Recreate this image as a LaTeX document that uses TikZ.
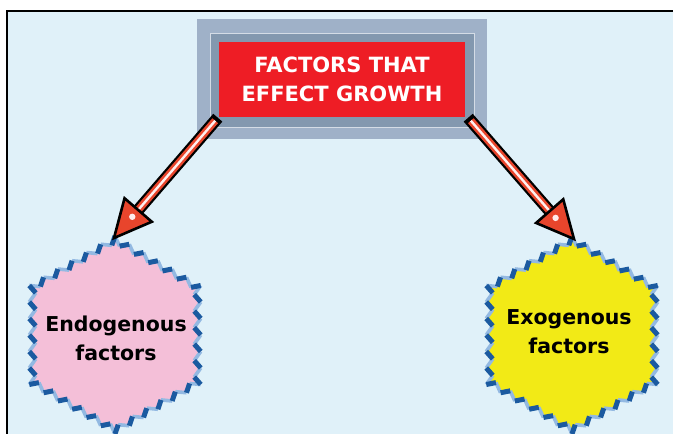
\documentclass[tikz,border=0pt]{standalone}
\usepackage{fontspec}
\setmainfont{DejaVu Sans}
\usetikzlibrary{calc}
\definecolor{bgblue}{HTML}{E0F1F9}
\definecolor{framegray}{HTML}{9FB1C8}
\definecolor{framedark}{HTML}{8398AF}
\definecolor{titlered}{HTML}{EE1D25}
\definecolor{arrowred}{HTML}{E8452C}
\definecolor{hexpink}{HTML}{F4BFD8}
\definecolor{hexyellow}{HTML}{F2EA16}
\definecolor{zigdark}{HTML}{1B5AA0}
\definecolor{ziglight}{HTML}{93B9E2}
\tikzset{
  titlebox/.style={fill=titlered, text=white, font=\bfseries\fontsize{21}{29}\selectfont,
    minimum width=246pt, minimum height=75pt, align=center, inner sep=0pt},
  hextext/.style={text=black, font=\bfseries\fontsize{20.5}{29}\selectfont, align=center, inner sep=0pt},
  lightstep/.style={ziglight, line width=3.6pt},
  darkstep/.style={zigdark, line width=5pt},
}
\newcommand\myhex[3]{% center x, center y, fill colour
  \foreach \v in {0,...,6}{\coordinate (hv\v) at ($(#1,#2)+(90+60*\v:99)$);}
  \fill[#3] (hv0)
    \foreach \i [evaluate=\i as \j using int(\i+1), evaluate=\i as \tn using 300+60*\i] in {0,...,5}{
      \foreach \k [evaluate=\k as \kk using (\k+1)/6, evaluate=\k as \km using (\k+0.55)/6] in {0,...,5}{
        -- ($(hv\i)!\km!(hv\j)+(\tn:6.5)$) -- ($(hv\i)!\kk!(hv\j)$)
      }
    } -- cycle;
  \foreach \i [evaluate=\i as \j using int(\i+1), evaluate=\i as \tn using 300+60*\i] in {0,...,5}{
    \foreach \k [evaluate=\k as \kf using \k/6, evaluate=\k as \km using (\k+0.55)/6] in {0,...,5}{
      \draw[lightstep] ($(hv\i)!\kf!(hv\j)$) -- ($(hv\i)!\km!(hv\j)+(\tn:6.5)$);
    }
  }
  \foreach \i [evaluate=\i as \j using int(\i+1), evaluate=\i as \tn using 300+60*\i] in {0,...,5}{
    \foreach \k [evaluate=\k as \kk using (\k+1)/6, evaluate=\k as \km using (\k+0.55)/6] in {0,...,5}{
      \draw[darkstep] ($(hv\i)!\km!(hv\j)+(\tn:6.5)$) -- ($(hv\i)!\kk!(hv\j)$);
    }
  }
}
\newcommand\fatarrow[2]{% from, to
  \draw[black, line width=12pt] (#1) -- ($(#2)!34pt!(#1)$);
  \draw[arrowred, line width=7.5pt] ($(#1)!4pt!(#2)$) -- ($(#2)!34pt!(#1)$);
  \draw[white!75!pink, line width=2.4pt] ($(#1)!4pt!(#2)$) -- ($(#2)!30pt!(#1)$);
  \filldraw[fill=arrowred, draw=black, line width=2.6pt, line join=miter]
    (#2) -- ($(#2)!37pt!(#1)!18pt!90:(#1)$) -- ($(#2)!37pt!(#1)!18pt!-90:(#1)$) -- cycle;
  \fill[white!70!pink] ($(#2)!28pt!(#1)$) circle (3.2pt);
}
\begin{document}
\begin{tikzpicture}[x=1pt,y=-1pt]
\useasboundingbox (0,0) rectangle (673,434);
\fill[white] (0,0) rectangle (673,434);
\fill[bgblue] (7,11) rectangle (673,434);
\draw[black, line width=2pt] (7,434) -- (7,11) -- (673,11);
% title frame
\fill[framegray] (197,19) rectangle (487,139);
\fill[framedark] (210,33) rectangle (474,127);
\draw[white!55!framegray, line width=1pt] (210,33) rectangle (474,127);
\node[titlebox] (title) at (342,79) {FACTORS THAT\\EFFECT GROWTH};
% hexagons
\myhex{115}{335}{hexpink}
\myhex{572}{335}{hexyellow}
\node[hextext] (endo) at (116,338) {Endogenous\\factors};
\node[hextext] (exo) at (569,332) {Exogenous\\factors};
\coordinate (endotop) at (114,238);
\coordinate (exotop) at (574,239);
\coordinate (lstart) at ($(title.south west)+(-1,1)$);
\coordinate (rstart) at ($(title.south east)+(3,1)$);
\fatarrow{lstart}{endotop}
\fatarrow{rstart}{exotop}
\end{tikzpicture}
\end{document}
